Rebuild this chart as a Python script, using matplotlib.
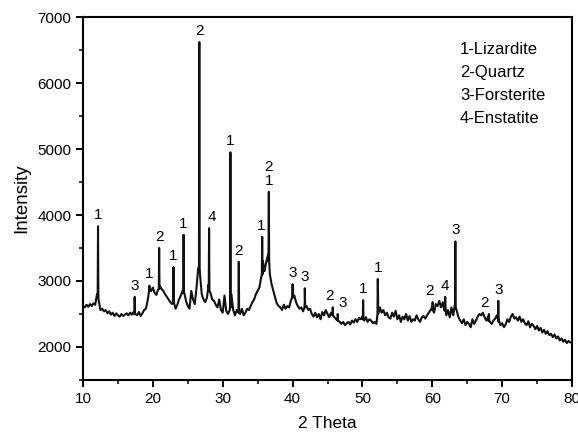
import numpy as np
import matplotlib
matplotlib.use("Agg")
import matplotlib.pyplot as plt

plt.rcParams['font.family'] = ['Liberation Sans', 'DejaVu Sans']

# Scan baseline: 2-theta from 10 to 80 in 0.25 deg steps
scan_start = 10.0
scan_step = 0.25
baseline = [
    2620, 2600, 2640, 2610,
    2650, 2620, 2660, 2640,
    2800, 2700, 2560, 2580,
    2540, 2560, 2510, 2540,
    2490, 2520, 2470, 2510,
    2480, 2460, 2500, 2470,
    2490, 2510, 2480, 2520,
    2490, 2530, 2500, 2480,
    2530, 2470, 2510, 2560,
    2580, 2700, 2880, 2850,
    2900, 2820, 2790, 2870,
    2920, 2880, 2850, 2800,
    2760, 2720, 2680, 2650,
    2700, 2580, 2640, 2720,
    2780, 2850, 2820, 2700,
    2620, 2580, 2850, 2720,
    2650, 2900, 3200, 3100,
    2800, 2720, 2680, 2750,
    2950, 2820, 2720, 2700,
    2640, 2600, 2720, 2560,
    2520, 2780, 2550, 2500,
    2560, 2800, 2560, 2480,
    2560, 2520, 2500, 2580,
    2480, 2520, 2580, 2560,
    2620, 2680, 2720, 2800,
    2850, 2900, 3050, 3300,
    3150, 3300, 3400, 3100,
    2950, 2850, 2750, 2660,
    2620, 2600, 2560, 2640,
    2580, 2620, 2600, 2700,
    2850, 2780, 2680, 2620,
    2580, 2600, 2540, 2700,
    2620, 2560, 2580, 2500,
    2460, 2520, 2450, 2500,
    2420, 2530, 2480, 2560,
    2500, 2450, 2520, 2480,
    2450, 2420, 2480, 2380,
    2350, 2380, 2330, 2360,
    2380, 2340, 2400, 2370,
    2420, 2380, 2440, 2420,
    2460, 2400, 2450, 2380,
    2420, 2400, 2360, 2380,
    2350, 2700, 2600, 2520,
    2560, 2480, 2520, 2450,
    2430, 2520, 2460, 2550,
    2420, 2480, 2380, 2460,
    2420, 2500, 2400, 2470,
    2380, 2420, 2400, 2480,
    2420, 2380, 2450, 2470,
    2430, 2480, 2520, 2560,
    2600, 2520, 2650, 2620,
    2700, 2600, 2680, 2550,
    2480, 2560, 2450, 2600,
    2480, 2650, 2550, 2450,
    2400, 2360, 2420, 2330,
    2380, 2350, 2300, 2420,
    2350, 2400, 2460, 2500,
    2480, 2520, 2450, 2400,
    2460, 2380, 2350, 2400,
    2430, 2480, 2380, 2330,
    2360, 2300, 2340, 2420,
    2380, 2460, 2500, 2430,
    2450, 2400, 2460, 2380,
    2420, 2360, 2330, 2390,
    2300, 2350, 2320, 2270,
    2320, 2250, 2290, 2220,
    2260, 2200, 2240, 2180,
    2200, 2150, 2190, 2130,
    2160, 2100, 2130, 2080,
    2110, 2060, 2090, 2070,
    2060,
]

# Sharp reflections: position, top intensity, foot intensity, phase label
peak_theta = [12.15, 17.4, 19.5, 20.9, 22.95, 24.4, 26.65, 28.05, 31.1, 32.3,
              35.65, 36.6, 40.0, 41.75, 45.75, 46.45, 50.1, 52.2, 60.05,
              61.85, 63.3, 68.1, 69.45]
peak_top = [3830, 2760, 2930, 3500, 3210, 3700, 6620, 3800, 4950, 3290,
            3670, 4350, 2950, 2890, 2600, 2500, 2710, 3030, 2680,
            2760, 3600, 2500, 2700]
peak_foot = [2750, 2500, 2850, 2880, 2680, 2820, 3200, 2850, 2600, 2520,
             3100, 3300, 2750, 2600, 2480, 2400, 2420, 2500, 2560,
             2580, 2600, 2400, 2420]
peak_label = ["1", "3", "1", "2", "1", "1", "2", "4", "1", "2",
              "1", "2\n1", "3", "3", "2", "3", "1", "1", "2",
              "4", "3", "2", "3"]
# horizontal nudge of the labels (points)
label_dx = [0, 0, 0, 0, 0, 0, 0, 2, 0, 0,
            -1, 0, 0, 0, -2, 4, 0, 0, -2,
            0, 0, -3, 0]

legend_lines = ["1-Lizardite", "2-Quartz", "3-Forsterite", "4-Enstatite"]

# build spectrum
pts = [(scan_start + i * scan_step, v) for i, v in enumerate(baseline)]
hw = 0.05
for t, top, foot in zip(peak_theta, peak_top, peak_foot):
    pts += [(t - hw, foot), (t, top), (t + hw, foot)]
pts.sort(key=lambda p: p[0])
x = np.array([p[0] for p in pts])
y = np.array([p[1] for p in pts])

fig = plt.figure(figsize=(5.78, 4.37), dpi=100)
ax = fig.add_axes([83/578, 1-380/437, (572-83)/578, (380-17)/437])
ax.plot(x, y, color='#111111', lw=1.5)

ax.set_xlim(10, 80)
ax.set_ylim(1500, 7000)
ax.set_xticks([10, 20, 30, 40, 50, 60, 70, 80])
ax.set_xticks(np.arange(15, 80, 10), minor=True)
ax.set_yticks([2000, 3000, 4000, 5000, 6000, 7000])
ax.set_yticks([1500, 2500, 3500, 4500, 5500, 6500], minor=True)
ax.tick_params(which='major', direction='out', length=5, width=1.4, labelsize=11)
ax.tick_params(which='minor', direction='out', length=3, width=1.1)
for s in ax.spines.values():
    s.set_linewidth(1.5)

ax.set_xlabel("2 Theta", fontsize=12.5, labelpad=7)
ax.set_ylabel("Intensity", fontsize=13.5, labelpad=5)

for t, top, lab, dx in zip(peak_theta, peak_top, peak_label, label_dx):
    ax.annotate(lab, xy=(t, top), xytext=(dx, 3), textcoords='offset points',
                ha='center', va='bottom', fontsize=11, linespacing=1.0)

for i, line in enumerate(legend_lines):
    ax.text(460/578, 1 - (50 + i*22.7)/437, line, transform=fig.transFigure,
            ha='left', va='center', fontsize=12)

fig.savefig("out.png", dpi=100)
